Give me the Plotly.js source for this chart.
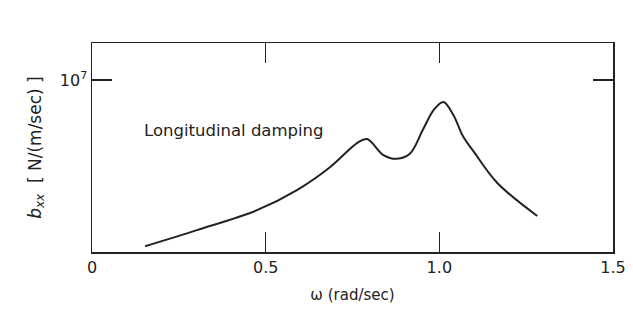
<!DOCTYPE html>
<html><head><meta charset="utf-8">
<script src="https://cdn.plot.ly/plotly-3.0.1.min.js"></script>
<style>body{margin:0;background:#fff}#c{width:633px;height:314px}</style>
</head><body><div id="c"></div>
<script>
const omega = [0.153, 0.302, 0.475, 0.59, 0.686, 0.764, 0.792, 0.839, 0.878, 0.915, 0.954, 0.985, 1.012, 1.04, 1.069, 1.10, 1.167, 1.282];
const bxx = [1.08e6, 1.34e6, 1.75e6, 2.29e6, 3.12e6, 4.31e6, 4.54e6, 3.66e6, 3.48e6, 3.72e6, 5.20e6, 6.75e6, 7.45e6, 6.27e6, 4.67e6, 3.81e6, 2.52e6, 1.62e6];
const xTicks = [0, 0.5, 1.0, 1.5];
const xTickText = ['0', '0.5', '1.0', '1.5'];
const yTicks = [1e7];
const yTickText = ['10<sup>7</sup>'];
const label = 'Longitudinal damping';

const fam = 'DejaVu Sans, sans-serif';
const font = {family: fam, color: '#222', size: 15};
Plotly.newPlot('c', [{
  x: omega, y: bxx, mode: 'lines', line: {color: '#222', width: 2, shape: 'spline', smoothing: 1}, hoverinfo: 'skip'
}], {
  width: 633, height: 314,
  margin: {l: 92, r: 20, t: 43, b: 62},
  paper_bgcolor: '#fff', plot_bgcolor: '#fff',
  showlegend: false, font: font,
  xaxis: {range: [0, 1.5], tickvals: xTicks, ticktext: xTickText, ticks: 'inside', ticklen: 20, tickwidth: 1.3, tickcolor: '#222',
    showline: true, linecolor: '#222', linewidth: 1.5, mirror: 'allticks', showgrid: false, zeroline: false,
    tickfont: {family: fam, size: 16, color: '#222'},
    title: {text: 'ω (rad/sec)', font: {family: fam, size: 15, color: '#222'}, standoff: 14}},
  yaxis: {type: 'log', range: [6, 7.215], tickvals: yTicks, ticktext: yTickText, ticks: 'inside', ticklen: 20, tickwidth: 1.3, tickcolor: '#222',
    showline: true, linecolor: '#222', linewidth: 1.5, mirror: 'allticks', showgrid: false, zeroline: false,
    tickfont: {family: fam, size: 16, color: '#222'},
    title: {text: '<i>b</i><sub><i>xx</i></sub>  [ N/(m/sec) ]', font: {family: fam, size: 17, color: '#222'}, standoff: 14}},
  annotations: [{x: 0.145, y: 6.709, xref: 'x', yref: 'y', text: label, showarrow: false, xanchor: 'left', yanchor: 'middle', font: {family: fam, size: 16.5, color: '#222'}}]
}, {staticPlot: true});
</script></body></html>
